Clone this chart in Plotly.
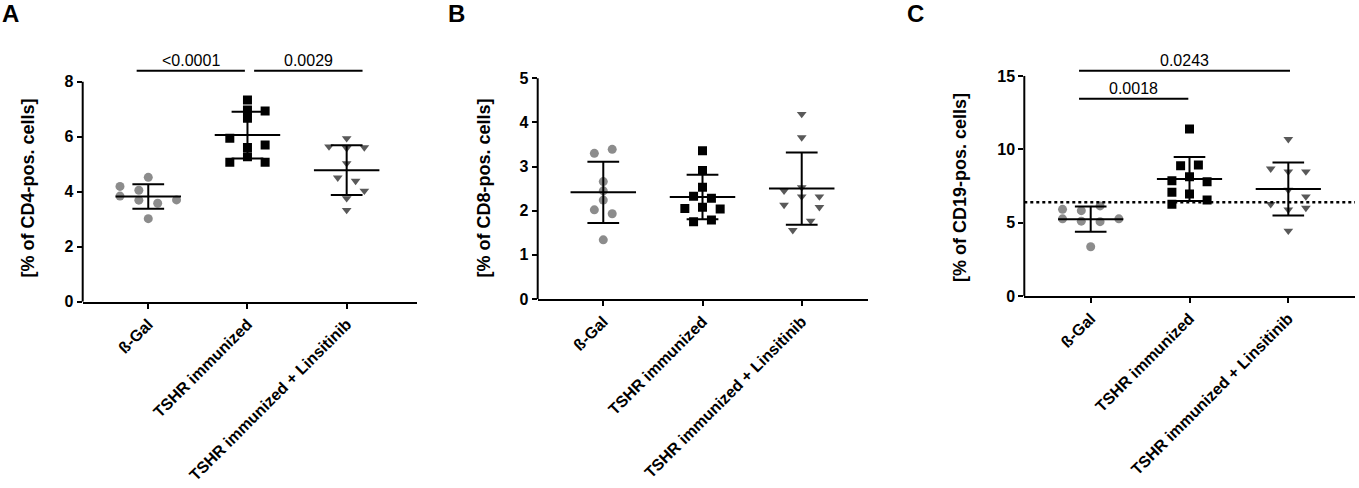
import numpy as np
import plotly.graph_objects as go

# ---- DATA ---- #
groups = ["ß-Gal", "TSHR immunized", "TSHR immunized + Linsitinib"]

# A: % of CD4-pos. cells
cd4_bgal = [4.19, 4.52, 4.05, 3.84, 3.69, 3.58, 3.70, 3.02]
cd4_tshr = [7.33, 6.97, 6.93, 6.67, 5.94, 5.61, 5.70, 5.27, 5.07, 5.07]
cd4_lins = [5.94, 5.64, 5.58, 5.61, 5.03, 4.51, 4.39, 4.03, 3.76, 3.33]

# B: % of CD8-pos. cells
cd8_bgal = [3.30, 3.39, 2.66, 2.45, 2.24, 2.02, 1.93, 1.34]
cd8_tshr = [3.36, 2.91, 2.53, 2.33, 2.28, 2.05, 2.08, 2.04, 1.75, 1.79]
cd8_lins = [4.19, 3.66, 2.45, 2.53, 2.13, 2.32, 2.32, 2.08, 1.77, 1.56]

# C: % of CD19-pos. cells
cd19_bgal = [5.91, 5.82, 6.14, 5.26, 5.10, 5.07, 5.26, 3.36]
cd19_tshr = [11.38, 8.88, 8.93, 7.86, 8.13, 7.79, 7.07, 6.95, 6.25, 6.54]
cd19_lins = [10.69, 8.68, 8.48, 8.48, 7.23, 6.78, 6.26, 6.00, 5.88, 4.44]
cd19_ref_line = 6.39

# p-values: (group from, group to, p-value text)
cd4_pvals = [(0, 1, "<0.0001"), (1, 2, "0.0029")]
cd19_pvals = [(0, 1, "0.0018"), (0, 2, "0.0243")]

# ---- SCATTER JITTER (horizontal offsets as drawn, in column units) ---- #
cd4_jit = [
    [-0.285, 0, -0.095, -0.285, -0.095, 0.095, 0.285, 0],
    [0, 0, 0.178, 0, -0.178, 0, 0.178, 0, -0.178, 0.178],
    [0, -0.178, 0, 0.178, 0, -0.09, 0.09, 0.178, 0, 0],
]
cd8_jit = [
    [-0.09, 0.09, 0, 0, 0, -0.09, 0.09, 0],
    [0, 0, 0, -0.09, 0.09, -0.178, 0, 0.178, -0.09, 0.09],
    [0, 0, -0.178, 0, -0.178, 0, 0.178, 0.178, 0.09, -0.09],
]
cd19_jit = [
    [-0.285, -0.095, 0.095, -0.285, -0.095, 0.095, 0.285, 0],
    [0, -0.09, 0.09, -0.178, 0, 0.178, -0.178, 0, -0.178, 0.178],
    [0, -0.178, 0, 0.178, 0, 0.178, -0.178, 0.178, 0, 0],
]

# ---- STYLE ---- #
FONT = "Liberation Sans"
W, H = 1359, 488
marker_styles = [
    dict(symbol="circle", size=9, color="#8c8c8c"),
    dict(symbol="square", size=9, color="#000000"),
    dict(symbol="triangle-down", size=8.5, color="#595959"),
]

# panel layout in pixels: x-axis left/right, y-axis bottom, top of plot area
panels = [
    dict(name="A", ytitle="[% of CD4-pos. cells]", data=[cd4_bgal, cd4_tshr, cd4_lins], jit=cd4_jit,
         xpx=(82.7, 417), ybot=301.7, xr=(-0.661, 2.709), yr=(0, 9.15), ymax=8,
         yticks=[0, 2, 4, 6, 8], pvals=cd4_pvals, title_x=27.5, letter_x=0,
         brackets=[(-0.117, 0.974, 8.4), (1.067, 2.16, 8.4)]),
    dict(name="B", ytitle="[% of CD8-pos. cells]", data=[cd8_bgal, cd8_tshr, cd8_lins], jit=cd8_jit,
         xpx=(537.7, 868.3), ybot=299, xr=(-0.661, 2.671), yr=(0, 5.64), ymax=5,
         yticks=[0, 1, 2, 3, 4, 5], pvals=[], title_x=483.5, letter_x=446,
         brackets=[]),
    dict(name="C", ytitle="[% of CD19-pos. cells]", data=[cd19_bgal, cd19_tshr, cd19_lins], jit=cd19_jit,
         xpx=(1024.3, 1355), ybot=296, xr=(-0.672, 2.675), yr=(0, 16.77), ymax=15,
         yticks=[0, 5, 10, 15], pvals=cd19_pvals, title_x=960, letter_x=905,
         brackets=[(-0.118, 0.988, 13.45), (-0.118, 2.017, 15.36)]),
]
TOP_PX = 50

fig = go.Figure()
shapes = []
annotations = []

for k, p in enumerate(panels):
    sfx = "" if k == 0 else str(k + 1)
    xa, ya = "x" + sfx, "y" + sfx

    # points
    for g, (vals, jit) in enumerate(zip(p["data"], p["jit"])):
        fig.add_trace(go.Scatter(
            x=[g + j for j in jit], y=vals, mode="markers",
            marker=dict(**marker_styles[g], line=dict(width=0)),
            xaxis=xa, yaxis=ya, hoverinfo="skip", showlegend=False,
        ))

    # mean +/- SD
    lx, ly = [], []
    for g, vals in enumerate(p["data"]):
        m = np.mean(vals)
        s = np.std(vals, ddof=1)
        lx += [g - 0.33, g + 0.33, None, g - 0.16, g + 0.16, None,
               g - 0.16, g + 0.16, None, g, g, None]
        ly += [m, m, None, m + s, m + s, None, m - s, m - s, None, m - s, m + s, None]
    fig.add_trace(go.Scatter(
        x=lx, y=ly, mode="lines", line=dict(color="black", width=2),
        xaxis=xa, yaxis=ya, hoverinfo="skip", showlegend=False,
    ))

    # axes
    x0, x1 = p["xpx"]
    fig.layout[("xaxis" + sfx)] = dict(
        domain=[x0 / W, x1 / W], range=list(p["xr"]), anchor=ya, automargin=False,
        tickvals=[0, 1, 2], ticktext=groups, tickangle=-45,
        ticks="outside", ticklen=5, tickwidth=2, tickcolor="black",
        showline=True, linewidth=2, linecolor="black",
        showgrid=False, zeroline=False,
        tickfont=dict(family=FONT, size=16, color="black", weight="bold"),
    )
    fig.layout[("yaxis" + sfx)] = dict(
        domain=[1 - p["ybot"] / H, 1 - TOP_PX / H], range=list(p["yr"]), anchor=xa,
        automargin=False,
        tickvals=p["yticks"], ticks="outside", ticklen=5, tickwidth=2, tickcolor="black",
        showline=False, showgrid=False, zeroline=False,
        tickfont=dict(family=FONT, size=16, color="black", weight="bold"),
    )

    # y axis line only up to last tick
    shapes.append(dict(type="line", xref=xa + " domain", yref=ya, x0=0, x1=0, y0=0, y1=p["ymax"],
                       line=dict(color="black", width=2)))

    # reference line in C
    if p["name"] == "C":
        shapes.append(dict(type="line", xref=xa, yref=ya, x0=p["xr"][0], x1=p["xr"][1],
                           y0=cd19_ref_line, y1=cd19_ref_line,
                           line=dict(color="black", width=2.5, dash="dot")))

    # significance brackets
    for (bx0, bx1, by), (_, _, txt) in zip(p["brackets"], p["pvals"]):
        shapes.append(dict(type="line", xref=xa, yref=ya, x0=bx0, x1=bx1, y0=by, y1=by,
                           line=dict(color="black", width=2)))
        annotations.append(dict(x=(bx0 + bx1) / 2, y=by, xref=xa, yref=ya, text=txt,
                                showarrow=False, yanchor="bottom", yshift=0,
                                font=dict(family=FONT, size=16, color="black")))

    # y title
    annotations.append(dict(x=p["title_x"] / W, y=1 - 188 / H, xref="paper", yref="paper",
                            text=p["ytitle"], textangle=-90, showarrow=False,
                            xanchor="center", yanchor="middle",
                            font=dict(family=FONT, size=18, color="black", weight="bold")))
    # panel letter
    annotations.append(dict(x=p["letter_x"] / W, y=1.0, xref="paper", yref="paper",
                            text=p["name"], showarrow=False, xanchor="left", yanchor="top",
                            yshift=2,
                            font=dict(family=FONT, size=24, color="black", weight="bold")))

fig.update_layout(
    width=W, height=H,
    margin=dict(l=0, r=0, t=0, b=0),
    paper_bgcolor="white", plot_bgcolor="white",
    shapes=shapes, annotations=annotations,
    showlegend=False, hovermode=False,
)

fig.write_html("out.html", config={"displayModeBar": False},
               post_script="document.body.style.margin = '0';")
